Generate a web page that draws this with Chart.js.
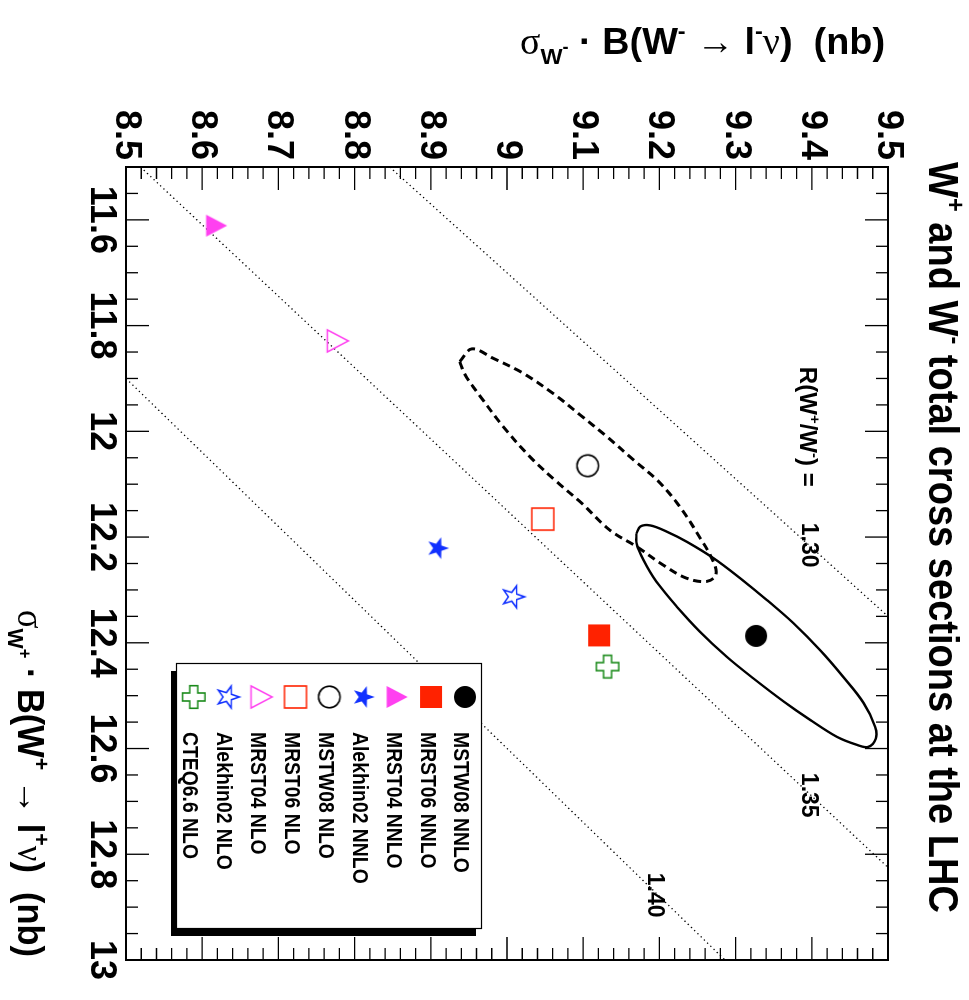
<!DOCTYPE html>
<html>
<head>
<meta charset="utf-8">
<title>W+ and W- total cross sections at the LHC</title>
<script src="https://cdn.jsdelivr.net/npm/chart.js@4.4.1/dist/chart.umd.min.js"></script>
<style>
  html, body { margin:0; padding:0; background:#fff; }
  body { width:969px; height:1000px; overflow:hidden; position:relative; }
  #rot { position:absolute; left:0; top:0; width:1000px; height:969px;
         transform-origin:0 0; transform: translate(969px,0) rotate(90deg); }
  #rot canvas { display:block; }
</style>
</head>
<body>
<div id="rot"><canvas id="chart" width="1000" height="969" style="width:1000px;height:969px"></canvas></div>
<script>
// ================= DATA =================
const modelNames = ['MSTW08 NNLO','MRST06 NNLO','MRST04 NNLO','Alekhin02 NNLO',
                    'MSTW08 NLO','MRST06 NLO','MRST04 NLO','Alekhin02 NLO','CTEQ6.6 NLO'];
// sigma_W+ . B(W+ -> l+ nu)  (nb)
const sigmaWplusNb  = [12.387, 12.386, 11.611, 12.221, 12.065, 12.166, 11.829, 12.313, 12.445];
// sigma_W- . B(W- -> l- nu)  (nb)
const sigmaWminusNb = [9.327, 9.121, 8.619, 8.909, 9.106, 9.047, 8.778, 9.008, 9.132];

// MSTW08 NNLO error ellipse (solid)
const ellipseNNLOWplus  = [12.193,12.180,12.178,12.190,12.209,12.240,12.278,12.319,12.363,12.414,12.464,12.514,12.559,
                           12.581,12.597,12.593,12.578,12.546,12.511,12.467,12.426,12.379,12.332,12.284,12.243,12.212];
const ellipseNNLOWminus = [9.170,9.175,9.188,9.210,9.236,9.271,9.306,9.341,9.376,9.411,9.441,9.468,9.483,
                           9.484,9.474,9.459,9.433,9.398,9.363,9.323,9.288,9.253,9.223,9.196,9.179,9.170];
// MSTW08 NLO error ellipse (dashed)
const ellipseNLOWplus   = [11.868,11.844,11.862,11.890,11.931,11.969,12.010,12.054,12.095,12.143,12.196,12.247,
                           12.272,12.284,12.278,12.253,12.218,12.187,12.136,12.095,12.048,11.991,11.934,11.893];
const ellipseNLOWminus  = [8.938,8.954,8.982,9.021,9.063,9.096,9.131,9.166,9.199,9.227,9.251,9.271,
                           9.274,9.262,9.236,9.205,9.170,9.135,9.098,9.065,9.030,8.995,8.965,8.945];

// lines of constant ratio R(W+/W-) : end points inside the frame
const ratioLabels     = ['1.30', '1.35', '1.40'];
const ratioLineWplus  = [[11.5, 12.35], [11.5, 12.825], [11.9, 13.0]];
const ratioLineWminus = [[8.846, 9.5],  [8.519, 9.5],   [8.5, 9.286]];
const ratioLabelWplus  = [12.173, 12.646, 12.835];
const ratioLabelWminus = [9.387, 9.387, 9.185];
const ratioHeaderAt    = [11.878, 9.385];

const xRange = [11.5, 13.0];
const yRange = [8.5, 9.5];
const xTickValues = [11.6, 11.8, 12.0, 12.2, 12.4, 12.6, 12.8, 13.0];
const xTickLabels = ['11.6','11.8','12','12.2','12.4','12.6','12.8','13'];
const yTickValues = [8.5, 8.6, 8.7, 8.8, 8.9, 9.0, 9.1, 9.2, 9.3, 9.4, 9.5];
const yTickLabels = ['8.5','8.6','8.7','8.8','8.9','9','9.1','9.2','9.3','9.4','9.5'];

// ================= STYLE =================
const markerShapes = ['circle-f','square-f','triangle-f','star-f','circle-o','square-o','triangle-o','star-o','cross-o'];
const markerColors = ['#000000','#ff2200','#ff40f0','#1030ff','#000000','#ff2200','#ff40f0','#1030ff','#1a8a1a'];
const SANS  = '"Liberation Sans", Arial, Helvetica, sans-serif';
const SERIF = '"Liberation Serif", "DejaVu Serif", serif';

function markerCanvas(kind, color) {
  const S = 30, c = document.createElement('canvas');
  c.width = S; c.height = S;
  const g = c.getContext('2d'), m = S / 2;
  const [shape, fill] = kind.split('-');
  g.strokeStyle = color; g.fillStyle = color; g.lineWidth = 1.6; g.lineJoin = 'miter';
  g.beginPath();
  if (shape === 'circle') {
    g.arc(m, m, fill === 'f' ? 11 : 10.8, 0, Math.PI * 2);
  } else if (shape === 'square') {
    g.rect(m - 11, m - 11, 22, 22);
  } else if (shape === 'triangle') {
    g.moveTo(m, m - 10.5); g.lineTo(m + 11, m + 10.5); g.lineTo(m - 11, m + 10.5); g.closePath();
  } else if (shape === 'star') {
    const R = 11.5, r = 4.6;
    for (let k = 0; k < 10; k++) {
      const a = -Math.PI / 2 + k * Math.PI / 5, rr = (k % 2) ? r : R;
      if (k === 0) g.moveTo(m + rr * Math.cos(a), m + rr * Math.sin(a));
      else g.lineTo(m + rr * Math.cos(a), m + rr * Math.sin(a));
    }
    g.closePath();
  } else if (shape === 'cross') {
    const a = 4, L = 11.3;
    const pts = [[-a,-L],[a,-L],[a,-a],[L,-a],[L,a],[a,a],[a,L],[-a,L],[-a,a],[-L,a],[-L,-a],[-a,-a]];
    pts.forEach((p, k) => k ? g.lineTo(m + p[0], m + p[1]) : g.moveTo(m + p[0], m + p[1]));
    g.closePath();
  }
  if (fill === 'f') g.fill(); else g.stroke();
  return c;
}
const markerImgs = markerShapes.map((k, i) => markerCanvas(k, markerColors[i]));

// ---------- rich text (sub/superscripts) ----------
function layoutRich(ctx, segs, size, weight) {
  let w = 0; const items = [];
  for (const s of segs) {
    let sz = size, dy = 0;
    if (s.sup)    { sz = size * 0.62; dy = -size * 0.42; }
    if (s.sub)    { sz = size * 0.62; dy =  size * 0.26; }
    if (s.subsup) { sz = size * 0.48; dy = -size * 0.02; }
    const fam = s.greek ? SERIF : SANS;
    const wt  = s.greek ? 'normal' : weight;
    const font = `${wt} ${sz}px ${fam}`;
    ctx.font = font;
    const adv = ctx.measureText(s.t).width;
    items.push({ t: s.t, font, x: w, dy });
    w += adv;
  }
  return { items, width: w };
}
function drawRich(ctx, segs, size, weight, x, y, align, width, scale) {
  const L = layoutRich(ctx, segs, size, weight);
  const sx = width ? width / L.width : (scale || 1);
  const W = L.width * sx;
  ctx.save();
  ctx.translate(x, y);
  const x0 = align === 'right' ? -W : (align === 'center' ? -W / 2 : 0);
  ctx.translate(x0, 0);
  ctx.scale(sx, 1);
  ctx.textAlign = 'left'; ctx.textBaseline = 'alphabetic'; ctx.fillStyle = '#000';
  for (const it of L.items) { ctx.font = it.font; ctx.fillText(it.t, it.x, it.dy); }
  ctx.restore();
}

const titleSegs = [{t:'W'},{t:'+',sup:1},{t:' and W'},{t:'-',sup:1},{t:' total cross sections at the LHC'}];
const yTitleSegs = [{t:'σ',greek:1},{t:'W',sub:1},{t:'-',subsup:1},{t:' · B(W'},{t:'-',sup:1},{t:' '},{t:'→',greek:1},
                    {t:' l'},{t:'-',sup:1},{t:'ν',greek:1},{t:')  (nb)'}];
const xTitleSegs = [{t:'σ',greek:1},{t:'W',sub:1},{t:'+',subsup:1},{t:' · B(W'},{t:'+',sup:1},{t:' '},{t:'→',greek:1},
                    {t:' l'},{t:'+',sup:1},{t:'ν',greek:1},{t:')  (nb)'}];
const ratioHeaderSegs = [{t:'R(W'},{t:'+',sup:1},{t:'/W'},{t:'-',sup:1},{t:') ='}];

// ---------- plugin: ROOT-like frame, ticks, titles, legend, labels ----------
const rootDecor = {
  id: 'rootDecor',
  beforeDraw(chart) {
    const c = chart.ctx; c.save(); c.fillStyle = '#fff'; c.fillRect(0, 0, chart.width, chart.height); c.restore();
  },
  afterDatasetsDraw(chart) {
    const ctx = chart.ctx, xs = chart.scales.x, ys = chart.scales.y;
    // ratio labels
    drawRich(ctx, ratioHeaderSegs, 23, 'bold', xs.getPixelForValue(ratioHeaderAt[0]), ys.getPixelForValue(ratioHeaderAt[1]), 'left', 120);
    ratioLabels.forEach((t, i) => {
      drawRich(ctx, [{t}], 23, 'bold', xs.getPixelForValue(ratioLabelWplus[i]), ys.getPixelForValue(ratioLabelWminus[i]), 'left');
    });
    // legend
    const LG = { left:663, top:487, right:928, bottom:792, dx:8, dy:6, markerX:697, textX:732, firstY:504, step:33.9 };
    const w = LG.right - LG.left, h = LG.bottom - LG.top;
    ctx.save();
    ctx.fillStyle = '#000'; ctx.fillRect(LG.left + LG.dx, LG.top + LG.dy, w, h);
    ctx.fillStyle = '#fff'; ctx.fillRect(LG.left, LG.top, w, h);
    ctx.strokeStyle = '#000'; ctx.lineWidth = 1.2; ctx.strokeRect(LG.left + 0.5, LG.top + 0.5, w, h);
    modelNames.forEach((name, i) => {
      const cy = LG.firstY + i * LG.step, img = markerImgs[i];
      ctx.drawImage(img, LG.markerX - img.width / 2, cy - img.height / 2);
      drawRich(ctx, [{t:name}], 22, 'bold', LG.textX, cy + 10.5, 'left', null, 0.88);
    });
    ctx.restore();
  },
  afterDraw(chart) {
    const ctx = chart.ctx, xs = chart.scales.x, ys = chart.scales.y, a = chart.chartArea;
    ctx.save();
    ctx.strokeStyle = '#000'; ctx.lineWidth = 1.3;
    ctx.beginPath();
    for (let i = 0; i <= 30; i++) {
      const v = xRange[0] + i * 0.05, L = ((i - 2) % 4 === 0) ? 23 : 12;
      const p = xs.getPixelForValue(v);
      ctx.moveTo(p, a.bottom); ctx.lineTo(p, a.bottom - L);
      ctx.moveTo(p, a.top);    ctx.lineTo(p, a.top + L);
    }
    for (let j = 0; j <= 50; j++) {
      const v = yRange[0] + j * 0.02, L = (j % 5 === 0) ? 23 : 12;
      const p = ys.getPixelForValue(v);
      ctx.moveTo(a.left, p);  ctx.lineTo(a.left + L, p);
      ctx.moveTo(a.right, p); ctx.lineTo(a.right - L, p);
    }
    ctx.stroke();
    ctx.lineWidth = 2;
    ctx.strokeRect(a.left, a.top, a.right - a.left, a.bottom - a.top);
    ctx.restore();
    // titles
    drawRich(ctx, titleSegs, 42, 'bold', 537.5, 40, 'center', 751);
    drawRich(ctx, xTitleSegs, 37, 'bold', 957, 951, 'right', 347);
    ctx.save(); ctx.translate(54, 449); ctx.rotate(-Math.PI / 2);
    drawRich(ctx, yTitleSegs, 37, 'bold', 0, 0, 'left', 365);
    ctx.restore();
  }
};

// ---------- datasets ----------
const datasets = [];
modelNames.forEach((name, i) => {
  datasets.push({
    label: name, data: [{ x: sigmaWplusNb[i], y: sigmaWminusNb[i] }],
    pointStyle: markerImgs[i], pointRadius: 11, pointHoverRadius: 11, showLine: false, order: 0
  });
});
function closedPairs(xsArr, ysArr) {
  const d = xsArr.map((x, i) => ({ x, y: ysArr[i] }));
  d.push({ x: xsArr[0], y: ysArr[0] });
  return d;
}
datasets.push({ label: 'MSTW08 NNLO ellipse', data: closedPairs(ellipseNNLOWplus, ellipseNNLOWminus),
  showLine: true, borderColor: '#000', borderWidth: 2.4, pointRadius: 0, tension: 0.35, order: 1 });
datasets.push({ label: 'MSTW08 NLO ellipse', data: closedPairs(ellipseNLOWplus, ellipseNLOWminus),
  showLine: true, borderColor: '#000', borderWidth: 3, borderDash: [8, 5], pointRadius: 0, tension: 0.35, order: 1 });
ratioLabels.forEach((r, i) => {
  datasets.push({ label: 'R = ' + r,
    data: [{ x: ratioLineWplus[i][0], y: ratioLineWminus[i][0] }, { x: ratioLineWplus[i][1], y: ratioLineWminus[i][1] }],
    showLine: true, borderColor: '#000', borderWidth: 1.3, borderDash: [1.3, 3.2], pointRadius: 0, order: 2 });
});

const tickFont = { family: SANS, size: 36, weight: 'bold' };
new Chart(document.getElementById('chart'), {
  type: 'scatter',
  data: { datasets },
  options: {
    responsive: false, animation: false, devicePixelRatio: 1, events: [],
    layout: { padding: { top: 81, right: 40, bottom: 0, left: 0 } },
    plugins: { legend: { display: false }, tooltip: { enabled: false }, title: { display: false } },
    scales: {
      x: {
        type: 'linear', position: 'bottom', min: xRange[0], max: xRange[1],
        afterBuildTicks: s => { s.ticks = xTickValues.map(v => ({ value: v })); },
        afterFit: s => { s.height = 126; },
        grid: { display: false, drawTicks: false }, border: { display: false },
        ticks: { autoSkip: false, maxRotation: 0, minRotation: 0, padding: 3, color: '#000', font: tickFont,
                 callback: (v, i) => xTickLabels[i] }
      },
      y: {
        type: 'linear', position: 'left', min: yRange[0], max: yRange[1],
        afterBuildTicks: s => { s.ticks = yTickValues.map(v => ({ value: v })); },
        afterFit: s => { s.width = 167; },
        grid: { display: false, drawTicks: false }, border: { display: false },
        ticks: { autoSkip: false, padding: 7, color: '#000', font: tickFont,
                 callback: (v, i) => yTickLabels[i] }
      }
    }
  },
  plugins: [rootDecor]
});
</script>
</body>
</html>
